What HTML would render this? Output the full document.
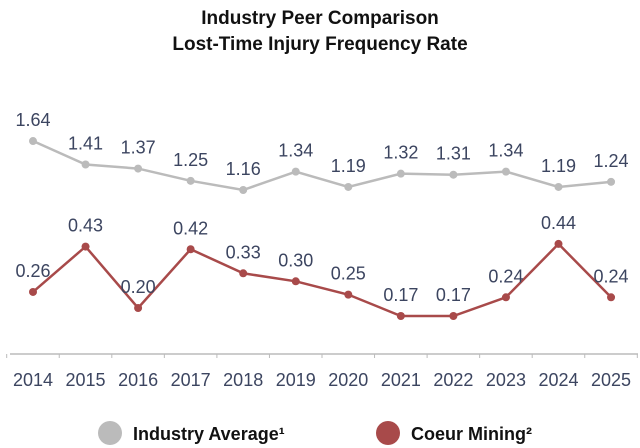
<!DOCTYPE html>
<html><head><meta charset="utf-8"><style>
body{margin:0;background:#fff;}
svg{display:block;font-family:"Liberation Sans Narrow","Liberation Sans",sans-serif;}
</style></head><body>
<svg width="640" height="448" id="c">
<text x="320" y="24" text-anchor="middle" font-size="19" font-weight="bold" fill="#111">Industry Peer Comparison</text>
<text x="320" y="50" text-anchor="middle" font-size="19" font-weight="bold" fill="#111">Lost-Time Injury Frequency Rate</text>
<line x1="10" y1="354" x2="638" y2="354" stroke="#bbb" stroke-width="1.5"/>
<g id="g"></g>
<circle cx="110" cy="433" r="12" fill="#bbb"/>
<text x="133" y="440" font-size="18" font-weight="bold" fill="#111">Industry Average¹</text>
<circle cx="388" cy="433" r="12" fill="#a84a4a"/>
<text x="411" y="440" font-size="18" font-weight="bold" fill="#111">Coeur Mining²</text>
</svg>
<script>
const years=["2014","2015","2016","2017","2018","2019","2020","2021","2022","2023","2024","2025"];
const industry=[1.64,1.41,1.37,1.25,1.16,1.34,1.19,1.32,1.31,1.34,1.19,1.24];
const coeur=[0.26,0.43,0.20,0.42,0.33,0.30,0.25,0.17,0.17,0.24,0.44,0.24];
const NS="http://www.w3.org/2000/svg";
const g=document.getElementById('g');
function x(i){return 33+i*52.55;}
function yI(v){return 190-(v-1.16)*102;}
function yC(v){return 316-(v-0.17)*267;}
function el(t,a){const e=document.createElementNS(NS,t);for(const k in a)e.setAttribute(k,a[k]);g.appendChild(e);return e;}
for(let i=0;i<=years.length;i++){
 const t=el('line',{x1:x(i)-26.3,x2:x(i)-26.3,y1:354,y2:358,stroke:'#bbb'});
 
 
}
years.forEach((yr,i)=>{
 const t=el('text',{x:x(i),y:386,'text-anchor':'middle','font-size':'18',fill:'#3c4560'});
 t.textContent=yr;
 
 
});
function series(data,yf,color,name){
 const p=el('polyline',{points:data.map((v,i)=>x(i)+','+yf(v)).join(' '),fill:'none',stroke:color,'stroke-width':2.5});
 
 
 data.forEach((v,i)=>{
  const c=el('circle',{cx:x(i),cy:yf(v),r:4,fill:color});
  
  
  const t=el('text',{x:x(i),y:yf(v)-15,'text-anchor':'middle','font-size':'18',fill:'#3c4560'});
  t.textContent=v.toFixed(2);
  
  
 });
}
series(industry,yI,'#bbb','industry-average');
series(coeur,yC,'#a84a4a','coeur-mining');
</script>
</body></html>
